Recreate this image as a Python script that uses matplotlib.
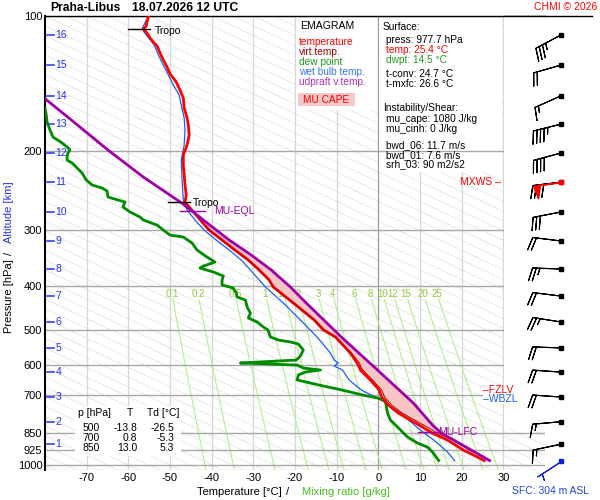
import numpy as np
import matplotlib.pyplot as plt
import matplotlib.transforms as mtransforms
from matplotlib.patches import Rectangle
from matplotlib.ticker import NullLocator

plt.rcParams["font.family"] = ["Liberation Sans", "DejaVu Sans"]

STATION = "Praha-Libus"
VALID = "18.07.2026 12 UTC"

# environment temperature (pressure hPa, temperature degC)
temp_p = [100.0, 103.1, 105.3, 106.9, 109.1, 111.9, 114.3, 116.6, 120.9, 125.3,
          129.9, 134.6, 140.3, 146.2, 152.2, 160.3, 168.7, 174.9, 184.1, 193.8,
          204.0, 214.7, 226.0, 237.9, 250.4, 259.6, 267.7, 277.5, 287.7, 299.8,
          315.5, 332.1, 349.6, 367.9, 387.3, 401.4, 435.8, 475.4, 500.0, 518.7,
          563.2, 592.8, 605.1, 614.5, 646.8, 680.8, 705.7, 735.3, 766.1, 794.1,
          823.1, 850.0, 879.9, 926.3, 954.9, 977.7]
temp_c = [-55.2, -55.5, -55.7, -56.4, -55.5, -54.8, -54.0, -53.1, -52.4, -51.6,
          -50.7, -50.0, -48.5, -47.6, -46.8, -46.6, -45.9, -45.6, -45.4, -45.9,
          -46.8, -46.8, -46.6, -46.4, -46.1, -46.4, -45.2, -43.7, -42.3, -40.6,
          -37.5, -34.4, -31.2, -28.6, -26.2, -25.2, -20.4, -15.4, -13.2, -10.3,
          -6.7, -5.1, -4.6, -4.3, -1.9, 0.2, 0.8, 2.4, 4.8, 7.7,
          10.6, 13.0, 16.6, 20.4, 23.3, 25.4]

# virtual temperature
virt_p = [259.6, 267.7, 277.5, 287.7, 299.8, 315.5, 332.1, 349.6, 367.9, 387.3,
          401.4, 435.8, 475.4, 500.0, 518.7, 563.2, 592.8, 605.1, 614.5, 646.8,
          680.8, 705.7, 735.3, 766.1, 794.1, 823.1, 850.0, 879.9, 926.3, 954.9,
          977.7]
virt_c = [-46.4, -45.2, -43.7, -42.3, -40.6, -37.5, -34.4, -31.2, -28.6, -26.2,
          -25.2, -20.3, -15.3, -13.1, -10.2, -6.5, -4.5, -4.2, -3.7, -1.4,
          0.8, 1.5, 3.2, 5.7, 8.7, 11.7, 14.2, 17.9, 21.8, 24.8,
          26.5]

# dew point
dwpt_p = [160.3, 166.2, 172.2, 179.4, 186.0, 191.8, 195.8, 198.8, 201.9, 206.1,
          209.3, 212.5, 218.0, 223.7, 231.9, 237.9, 241.6, 245.4, 253.0, 256.9,
          259.6, 266.3, 273.2, 280.4, 284.7, 292.2, 299.8, 307.5, 310.7, 320.4,
          332.1, 344.3, 353.2, 360.5, 364.2, 371.7, 379.4, 387.3, 397.3, 403.5,
          414.0, 422.6, 429.1, 444.8, 458.7, 470.6, 480.3, 492.8, 500.0, 518.7,
          526.8, 532.2, 537.7, 554.6, 571.9, 583.8, 586.8, 592.8, 595.9, 599.0,
          608.2, 614.5, 620.8, 630.4, 646.8, 656.8, 667.0, 677.4, 687.8, 698.5,
          709.3, 720.3, 739.1, 766.1, 794.1, 823.1, 866.4, 893.5, 912.1, 935.8,
          954.9, 977.7]
dwpt_c = [-80.0, -79.7, -79.5, -78.8, -78.1, -75.9, -74.7, -74.0, -74.5, -74.7,
          -74.7, -73.5, -72.3, -71.1, -70.1, -68.7, -66.3, -65.1, -64.9, -62.5,
          -60.8, -61.3, -59.6, -57.2, -56.4, -53.1, -51.6, -50.0, -46.8, -44.7,
          -43.5, -41.1, -39.2, -42.0, -42.8, -39.6, -37.2, -37.5, -37.5, -34.8,
          -34.1, -33.9, -31.9, -31.5, -30.7, -31.2, -29.1, -27.6, -26.5, -25.9,
          -24.0, -21.1, -19.2, -18.0, -18.7, -19.7, -24.3, -33.1, -25.9, -19.5,
          -18.0, -13.9, -17.5, -19.2, -19.5, -16.3, -13.2, -9.8, -6.7, -3.8,
          -0.2, 1.7, 1.9, 2.2, 2.9, 4.6, 7.0, 9.4, 11.8, 13.0,
          13.7, 14.5]

# wet bulb temperature
wetb_p = [102.1, 106.9, 110.2, 116.0, 122.1, 128.6, 135.3, 142.5, 150.0, 157.8,
          168.7, 179.4, 193.8, 209.3, 231.9, 256.9, 270.4, 284.7, 299.8, 315.5,
          332.1, 349.6, 367.9, 401.4, 435.8, 475.4, 518.7, 563.2, 583.8, 592.8,
          602.0, 614.5, 646.8, 680.8, 716.6, 766.1, 835.9, 893.5, 935.8, 977.7]
wetb_c = [-55.7, -56.7, -55.7, -53.8, -52.8, -51.6, -50.4, -49.2, -47.8, -47.3,
          -46.6, -46.4, -46.6, -47.3, -47.1, -46.8, -45.9, -44.0, -41.8, -38.9,
          -35.8, -32.9, -30.7, -27.1, -22.8, -18.7, -14.7, -11.5, -10.6, -9.6,
          -10.6, -8.6, -7.0, -4.1, 0.7, 5.3, 10.1, 14.2, 16.6, 18.3]

# most unstable parcel, virtual temperature
parcel_p = [151.5, 170.4, 198.8, 228.4, 260.9, 284.7, 315.5, 340.7, 367.9, 401.4,
            435.8, 518.7, 614.5, 727.7, 814.7, 848.8, 902.8, 977.7]
parcel_c = [-80.5, -73.7, -64.9, -56.4, -47.2, -42.0, -35.8, -30.5, -25.7, -21.1,
            -17.3, -8.9, -0.2, 8.4, 13.0, 15.1, 20.2, 26.7]

# altitude levels and winds
alt_km = [16, 15, 14, 13, 12, 11, 10, 9, 8, 7, 6, 5, 4, 3, 2, 1]
alt_p = [110.2, 128.6, 150.6, 174.1, 201.9, 234.4, 273.2, 317.0, 366.0, 420.5,
         480.3, 548.6, 621.0, 705.7, 801.0, 898.7]
wind_dir = [242, 254, 246, 256, 255, 263, 259, 277, 272, 277, 279, 272, 274, 274, 265, 258]
wind_spd = [35, 20, 15, 45, 40, 40, 30, 20, 25, 20, 25, 20, 20, 20, 15, 15]

sfc_p, sfc_dir, sfc_spd = 977.7, 237, 5
mxws_p, mxws_dir, mxws_spd = 234.4, 262, 50

tropo_p = [106.9, 259.6]
eql_p = 272.2
lfc_p = 846.0
fzlv_p = 680.8
wbzl_p = 712.0

mix_ratios = [0.1, 0.2, 0.5, 1, 1.5, 2, 3, 4, 6, 8, 10, 12, 15, 20, 25]
mix_labels = ["0.1", "0.2", "0.5", "1", "1.5", "2", "3", "4", "6", "8", "10", "12", "15", "20", "25"]

press_ticks = [100, 200, 300, 400, 500, 600, 700, 850, 925, 1000]
temp_ticks = [-70, -60, -50, -40, -30, -20, -10, 0, 10, 20, 30]

table_p = [500, 700, 850]
table_t = [-13.8, 0.8, 13.0]
table_td = [-26.5, -5.3, 5.3]

sfc_press, sfc_temp, sfc_dwpt = 977.7, 25.4, 14.5
t_conv, t_mxfc = 24.7, 26.6
mu_cape, mu_cinh = 1080, 0
bwd_06, bwd_01, srh_03 = 11.7, 7.6, 90
sfc_height = 304

W, H = 600, 500
P_BOT = 1026.0

RED = "#ff0000"
VIRT = "#b00000"
GREEN = "#008c00"
BLUE = "#1a5cff"
PURPLE = "#a000a8"
ALT_BLUE = "#2030ff"
MIX_LINE = "#b2f08a"
MIX_TEXT = "#8fcc3a"


def fx(px):
    return px / W


def fy(py):
    return 1 - py / H


def mixing_ratio_temp(w, p):
    e = w * p / (622.0 + w)
    a = np.log(e / 6.112)
    return 243.5 * a / (17.67 - a)


def uv(direction, speed):
    rad = np.radians(direction)
    return -np.asarray(speed) * np.sin(rad), -np.asarray(speed) * np.cos(rad)


fig = plt.figure(figsize=(6, 5), dpi=100)
ax = fig.add_axes([fx(45), fy(470), 500 / W, 454 / H])
ax.set_yscale("log")
ax.set_xlim(-80, 40)
ax.set_ylim(P_BOT, 100)

ax.set_yticks(press_ticks)
ax.set_yticklabels([str(p) for p in press_ticks])
ax.yaxis.set_minor_locator(NullLocator())
ax.set_xticks(temp_ticks)
ax.set_xticklabels([str(t) for t in temp_ticks])
ax.tick_params(axis="both", length=0, labelsize=8)
ax.tick_params(axis="x", pad=2)
ax.tick_params(axis="y", pad=2)

for side in ["right", "bottom"]:
    ax.spines[side].set_visible(False)
ax.spines["left"].set_linewidth(1.5)
ax.spines["top"].set_linewidth(1.0)

# background: slanted guide lines
p_line = np.logspace(2, np.log10(P_BOT), 60)
for c in np.arange(-80, 290, 5):
    ax.plot(c + 230 * np.log10(p_line / 1000.0), p_line, color="#e3e3e3", lw=0.55, zorder=0.5)

# isotherms
for t in temp_ticks:
    col = "#9a9a9a" if t == 0 else "#d6d6d6"
    ax.axvline(t, color=col, lw=0.9, zorder=1)

# mixing ratio lines
p_mix = np.logspace(np.log10(428), np.log10(P_BOT), 30)
for w, lab in zip(mix_ratios, mix_labels):
    ax.plot(mixing_ratio_temp(w, p_mix), p_mix, color=MIX_LINE, lw=0.8, zorder=1.5)
    ax.text(mixing_ratio_temp(w, 416.0), 416.0, lab, color=MIX_TEXT, fontsize=7,
            ha="center", va="center", zorder=1.6)

# white info boxes
box_kw = dict(transform=fig.transFigure, facecolor="white", edgecolor="none", clip_on=False)
ax.add_patch(Rectangle((fx(296), fy(110)), 81 / W, 93 / H, zorder=2, **box_kw))
ax.add_patch(Rectangle((fx(379), fy(172)), 122 / W, 155 / H, zorder=2, **box_kw))
ax.add_patch(Rectangle((fx(75), fy(456)), 106 / W, 50 / H, zorder=3, **box_kw))
ax.add_patch(Rectangle((fx(298), fy(106)), 57 / W, 13 / H, transform=fig.transFigure,
                       facecolor="#f8c8c8", edgecolor="none", zorder=2.1, clip_on=False))

# isobars
for p in press_ticks:
    ax.axhline(p, color="#a8a8a8", lw=1.0, zorder=2.5)

# altitude scale
blend = mtransforms.blended_transform_factory(ax.transAxes, ax.transData)
for km, p in zip(alt_km, alt_p):
    ax.plot([0.004, 0.018], [p, p], color=ALT_BLUE, lw=1.1, transform=blend, zorder=3)
    ax.text(0.021, p, str(km), color=ALT_BLUE, fontsize=7.5, va="center",
            transform=blend, zorder=3)

# CAPE area
pf = np.logspace(np.log10(eql_p), np.log10(lfc_p), 200)
tv_f = np.interp(np.log(pf), np.log(virt_p), virt_c)
pc_f = np.interp(np.log(pf), np.log(parcel_p), parcel_c)
ax.fill_betweenx(pf, tv_f, pc_f, where=pc_f >= tv_f, color="#f6c6c6", lw=0, zorder=4)

# profiles
ax.plot(wetb_c, wetb_p, color=BLUE, lw=0.9, zorder=5)
ax.plot(dwpt_c, dwpt_p, color=GREEN, lw=2.0, zorder=6)
ax.plot(temp_c, temp_p, color=RED, lw=2.0, zorder=6)
ax.plot(virt_c, virt_p, color=VIRT, lw=0.7, zorder=7)
ax.plot(parcel_c, parcel_p, color=PURPLE, lw=2.0, zorder=7)

# level markers
ax.plot([-60.1, -54.8], [tropo_p[0]] * 2, color="black", lw=1.0, zorder=8)
ax.text(-53.6, tropo_p[0] * 1.01, "Tropo", fontsize=7.5, va="center", zorder=8)
ax.plot([-50.5, -45.2], [tropo_p[1]] * 2, color="black", lw=1.0, zorder=8)
ax.text(-44.6, tropo_p[1] * 1.004, "Tropo", fontsize=7.5, va="center", zorder=8)
ax.plot([-47.6, -41.6], [eql_p] * 2, color=PURPLE, lw=1.0, zorder=8)
ax.text(-39.3, eql_p, "MU-EQL", color=PURPLE, fontsize=7.5, va="center", zorder=8)
ax.plot([9.5, 14.3], [lfc_p] * 2, color=PURPLE, lw=1.0, zorder=8)
ax.text(14.4, lfc_p, "MU-LFC", color=PURPLE, fontsize=7.5, va="center", zorder=8)

# white area behind the wind column
ax.add_patch(Rectangle((30.2, 100.6), 10, 830 - 100.6, facecolor="white",
                       edgecolor="none", zorder=9))

# wind column
ax2 = fig.add_axes([fx(504), fy(470), 88 / W, 454 / H])
ax2.set_yscale("log")
ax2.set_ylim(P_BOT, 100)
ax2.set_xlim(0, 1)
ax2.patch.set_visible(False)
ax2.set_xticks([])
ax2.set_yticks([])
ax2.yaxis.set_minor_locator(NullLocator())
for side in ["left", "right", "bottom"]:
    ax2.spines[side].set_visible(False)
ax2.spines["top"].set_linewidth(1.0)

bx = 0.648
barb_kw = dict(length=6.4, sizes=dict(spacing=0.13, height=0.45), clip_on=False,
               flip_barb=True)
u, v = uv(wind_dir, wind_spd)
ax2.barbs([bx] * len(alt_p), alt_p, u, v, color="black", lw=0.8, **barb_kw)
ax2.plot([bx] * len(alt_p), alt_p, "s", ms=2.3, color="black", clip_on=False)
u, v = uv(mxws_dir, mxws_spd)
ax2.barbs([bx], [mxws_p], [u], [v], color=RED, lw=1.0, **barb_kw)
ax2.plot([bx], [mxws_p], "s", ms=2.3, color=RED, clip_on=False)
u, v = uv(sfc_dir, sfc_spd)
ax2.barbs([bx], [sfc_p], [u], [v], color="#1020e0", lw=0.8, **barb_kw)
ax2.plot([bx], [sfc_p], "s", ms=2.3, color="#1020e0", clip_on=False)

# right-side level labels
def p_to_fig_y(p):
    return fy(16 + 449 * np.log10(p / 100.0))

fig.text(fx(501), p_to_fig_y(mxws_p), "MXWS \u2013", color=RED, fontsize=7.5,
         ha="right", va="center")
fig.text(fx(483), p_to_fig_y(fzlv_p), "\u2013FZLV", color=RED, fontsize=7.5, va="center",
         bbox=dict(facecolor="white", edgecolor="none", pad=0.3))
fig.text(fx(483), p_to_fig_y(wbzl_p), "\u2013WBZL", color=BLUE, fontsize=7.5, va="center",
         bbox=dict(facecolor="white", edgecolor="none", pad=0.3))

# title and credits
fig.text(fx(50), fy(8), STATION, fontsize=8.7, weight="bold", va="center")
fig.text(fx(132), fy(8), VALID, fontsize=8.7, weight="bold", va="center")
fig.text(fx(597), fy(7), "CHMI \u00a9 2026", color=RED, fontsize=7.5, ha="right", va="center")
fig.text(fx(589), fy(491), f"SFC: {sfc_height} m ASL", color="#2244ee", fontsize=7.5,
         ha="right", va="center")

# axis titles
fig.text(fx(197), fy(492), "Temperature [\u00b0C]", fontsize=8, va="center")
fig.text(fx(286), fy(492), "/", fontsize=8, va="center")
fig.text(fx(302), fy(492), "Mixing ratio [g/kg]", color="#44c21e", fontsize=8, va="center")
fig.text(fx(9), fy(296), "Pressure [hPa]", fontsize=8, rotation=90, ha="center", va="center")
fig.text(fx(9), fy(253), "/", fontsize=8, rotation=90, ha="center", va="center")
fig.text(fx(9), fy(212), "Altitude [km]", color=ALT_BLUE, fontsize=8, rotation=90,
         ha="center", va="center")

# legend
legend_items = [("temperature", RED), ("virt.temp.", VIRT), ("dew point", "#1e9e1e"),
                ("wet bulb temp.", "#3377ff"), ("udpraft v.temp.", "#b030c0")]
fig.text(fx(300), fy(26), "EMAGRAM", fontsize=7.6, va="center")
for i, (name, col) in enumerate(legend_items):
    fig.text(fx(299), fy(42 + 10 * i), name, color=col, fontsize=7.3, va="center")
fig.text(fx(303), fy(100), "MU CAPE", color=RED, fontsize=7.3, va="center")

# surface / instability box
info = [
    ("Surface:", "black", 383, 27),
    (f"press: {sfc_press} hPa", "black", 386, 40),
    (f"temp: {sfc_temp} \u00b0C", RED, 386, 50),
    (f"dwpt: {sfc_dwpt} \u00b0C", "#1e9e1e", 386, 60),
    (f"t-conv: {t_conv} \u00b0C", "black", 386, 74),
    (f"t-mxfc: {t_mxfc} \u00b0C", "black", 386, 84),
    ("Instability/Shear:", "black", 383, 108),
    (f"mu_cape: {mu_cape} J/kg", "black", 386, 119),
    (f"mu_cinh: {mu_cinh} J/kg", "black", 386, 129),
    (f"bwd_06: {bwd_06} m/s", "black", 386, 145),
    (f"bwd_01: {bwd_01} m/s", "black", 386, 155),
    (f"srh_03: {srh_03} m2/s2", "black", 386, 164),
]
for txt, col, x, y in info:
    fig.text(fx(x), fy(y), txt, color=col, fontsize=7.3, va="center")

# standard level table
fig.text(fx(78), fy(413), "p [hPa]", fontsize=7.5, va="center")
fig.text(fx(130), fy(413), "T", fontsize=7.5, va="center", ha="center")
fig.text(fx(147), fy(413), "Td [\u00b0C]", fontsize=7.5, va="center")
for i, (p, t, td) in enumerate(zip(table_p, table_t, table_td)):
    y = fy(428 + 10 * i)
    fig.text(fx(100), y, str(p), fontsize=7.5, ha="right", va="center")
    fig.text(fx(137), y, f"{t:.1f}", fontsize=7.5, ha="right", va="center")
    fig.text(fx(174), y, f"{td:.1f}", fontsize=7.5, ha="right", va="center")

fig.savefig("out.png", dpi=100)
